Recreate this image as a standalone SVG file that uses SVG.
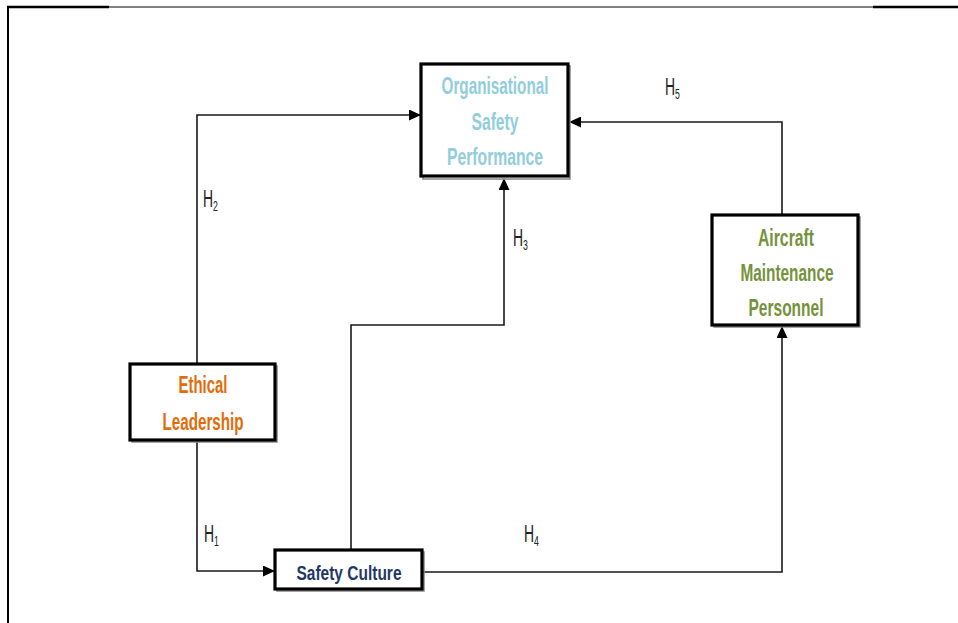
<svg xmlns="http://www.w3.org/2000/svg" width="958" height="623" viewBox="0 0 958 623">
<style>
.box{fill:#fff;stroke:#000;stroke-width:3.2}
.shadow{fill:none;stroke:#888;stroke-width:1.5}
.lbl{font-family:"Liberation Sans",Arial,sans-serif;font-weight:bold;text-anchor:middle}
.conn{fill:none;stroke:#1a1a1a;stroke-width:1.6}
.h{font-family:"Liberation Sans",Arial,sans-serif;font-size:24px;fill:#222}
</style>
<defs>
<marker id="arr" markerUnits="userSpaceOnUse" markerWidth="12" markerHeight="11" refX="11" refY="5.5" orient="auto">
<path d="M0,0 L12,5.5 L0,11 z" fill="#000"/>
</marker>
</defs>
<rect width="958" height="623" fill="#fff"/>
<g id="frame">
<line x1="8" y1="7" x2="958" y2="7" stroke="#000" stroke-width="1"/>
<line x1="7" y1="7" x2="109" y2="7" stroke="#000" stroke-width="2.5"/>
<line x1="873" y1="7" x2="958" y2="7" stroke="#000" stroke-width="2.5"/>
<line x1="8" y1="6" x2="8" y2="623" stroke="#000" stroke-width="2"/>
</g>
<g id="connectors">
<path class="conn" d="M197,364 V115 H420" marker-end="url(#arr)"/>
<path class="conn" d="M197,441 V571 H274" marker-end="url(#arr)"/>
<path class="conn" d="M351,550 V325 H504 V179" marker-end="url(#arr)"/>
<path class="conn" d="M423,572 H782 V327" marker-end="url(#arr)"/>
<path class="conn" d="M782,215 V122 H570" marker-end="url(#arr)"/>
<text class="h" transform="translate(203,207) scale(0.58,1)">H<tspan font-size="15" dy="4">2</tspan></text>
<text class="h" transform="translate(513,246) scale(0.58,1)">H<tspan font-size="15" dy="4">3</tspan></text>
<text class="h" transform="translate(665,95) scale(0.58,1)">H<tspan font-size="15" dy="4">5</tspan></text>
<text class="h" transform="translate(204,542) scale(0.58,1)">H<tspan font-size="15" dy="4">1</tspan></text>
<text class="h" transform="translate(524,542) scale(0.58,1)">H<tspan font-size="15" dy="4">4</tspan></text>
</g>
<g id="organisational-safety-performance">
<rect class="shadow" x="423" y="66" width="147" height="113"/>
<rect class="box" x="421" y="64" width="147" height="112"/>
<g class="lbl" font-size="23" fill="#92CDDC">
<text x="495" y="94" textLength="107" lengthAdjust="spacingAndGlyphs">Organisational</text>
<text x="495" y="129.5" textLength="47" lengthAdjust="spacingAndGlyphs">Safety</text>
<text x="495" y="165" textLength="96" lengthAdjust="spacingAndGlyphs">Performance</text>
</g>
</g>
<g id="aircraft-maintenance-personnel">
<rect class="shadow" x="714" y="217" width="146" height="110"/>
<rect class="box" x="712" y="215" width="146" height="110"/>
<g class="lbl" font-size="23" fill="#76923C">
<text x="786" y="246" textLength="56" lengthAdjust="spacingAndGlyphs">Aircraft</text>
<text x="787" y="281" textLength="93" lengthAdjust="spacingAndGlyphs">Maintenance</text>
<text x="786" y="316" textLength="75" lengthAdjust="spacingAndGlyphs">Personnel</text>
</g>
</g>
<g id="ethical-leadership">
<rect class="shadow" x="132" y="366" width="145" height="76"/>
<rect class="box" x="130" y="364" width="145" height="76"/>
<g class="lbl" font-size="23" fill="#E36C09">
<text x="203" y="393" textLength="49" lengthAdjust="spacingAndGlyphs">Ethical</text>
<text x="203" y="430" textLength="81" lengthAdjust="spacingAndGlyphs">Leadership</text>
</g>
</g>
<g id="safety-culture">
<rect class="shadow" x="277" y="552" width="147" height="39"/>
<rect class="box" x="275" y="550" width="147" height="39"/>
<text class="lbl" x="349" y="580" font-size="21" fill="#1F3864" textLength="105" lengthAdjust="spacingAndGlyphs">Safety Culture</text>
</g>
</svg>
